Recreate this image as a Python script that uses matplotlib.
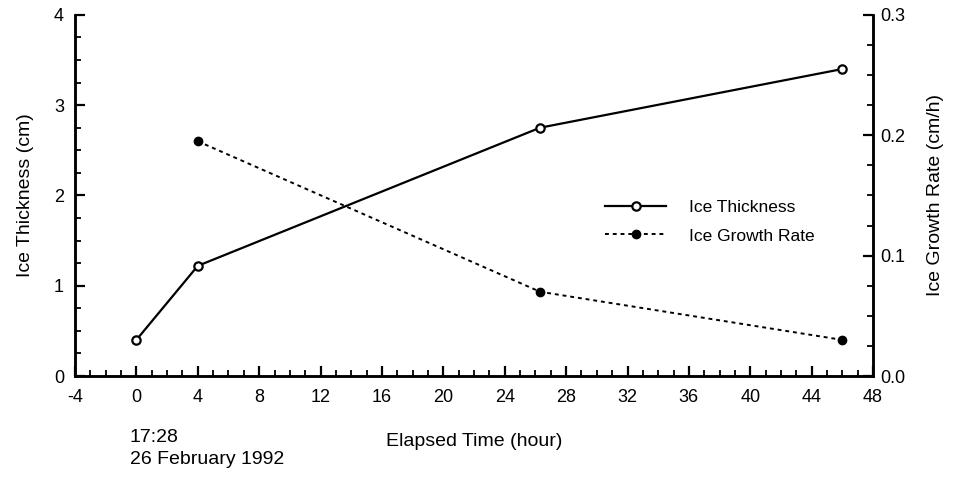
import matplotlib
matplotlib.use('Agg')
from matplotlib import pyplot as plt
from matplotlib.ticker import MultipleLocator

plt.rcParams['font.family'] = ['Liberation Sans', 'DejaVu Sans']
plt.rcParams['axes.unicode_minus'] = False

# data
hours_thick = [0, 4, 26.3, 46]
thickness = [0.4, 1.22, 2.75, 3.4]
hours_rate = [4, 26.3, 46]
growth_rate = [0.195, 0.07, 0.03]

fig = plt.figure(figsize=(9.69, 4.79), dpi=100)
ax = fig.add_axes([0.0774, 0.215, 0.8236, 0.754])
ax2 = ax.twinx()

l1, = ax.plot(hours_thick, thickness, '-', color='black', lw=1.6,
              marker='o', markersize=6, markerfacecolor='white',
              markeredgewidth=1.6, label='Ice Thickness')
l2, = ax2.plot(hours_rate, growth_rate, color='black', lw=1.4,
               linestyle=(0, (2, 2)), marker='o', markersize=6,
               markerfacecolor='black', label='Ice Growth Rate')

ax.set_xlim(-4, 48)
ax.set_ylim(0, 4)
ax2.set_ylim(0, 0.3)

ax.xaxis.set_major_locator(MultipleLocator(4))
ax.xaxis.set_minor_locator(MultipleLocator(1))
ax.yaxis.set_major_locator(MultipleLocator(1))
ax.yaxis.set_minor_locator(MultipleLocator(0.25))
ax2.yaxis.set_major_locator(MultipleLocator(0.1))
ax2.yaxis.set_minor_locator(MultipleLocator(0.025))
ax2.yaxis.set_major_formatter(plt.FormatStrFormatter('%.1f'))

for a in (ax, ax2):
    a.spines['top'].set_visible(False)
    for s in a.spines.values():
        s.set_linewidth(1.8)
    a.tick_params(which='major', direction='in', length=7, width=1.6, labelsize=13)
    a.tick_params(which='minor', direction='in', length=4, width=1.3)
ax.tick_params(axis='x', pad=9)
ax.tick_params(axis='y', pad=8)
ax2.tick_params(axis='y', pad=5)

ax.set_ylabel('Ice Thickness (cm)', fontsize=14, labelpad=14)
ax2.set_ylabel('Ice Growth Rate (cm/h)', fontsize=14, labelpad=16)
ax.set_xlabel('Elapsed Time (hour)', fontsize=14, labelpad=20)

fig.text(0.134, 0.064, '17:28\n26 February 1992', fontsize=14,
         ha='left', va='center', linespacing=1.4)

ax.legend(handles=[l1, l2], loc='upper left', bbox_to_anchor=(0.645, 0.53),
          frameon=False, fontsize=12.5, handlelength=3.5, handletextpad=1.3,
          labelspacing=0.75)

fig.savefig('out.png', dpi=100)
plt.close()
